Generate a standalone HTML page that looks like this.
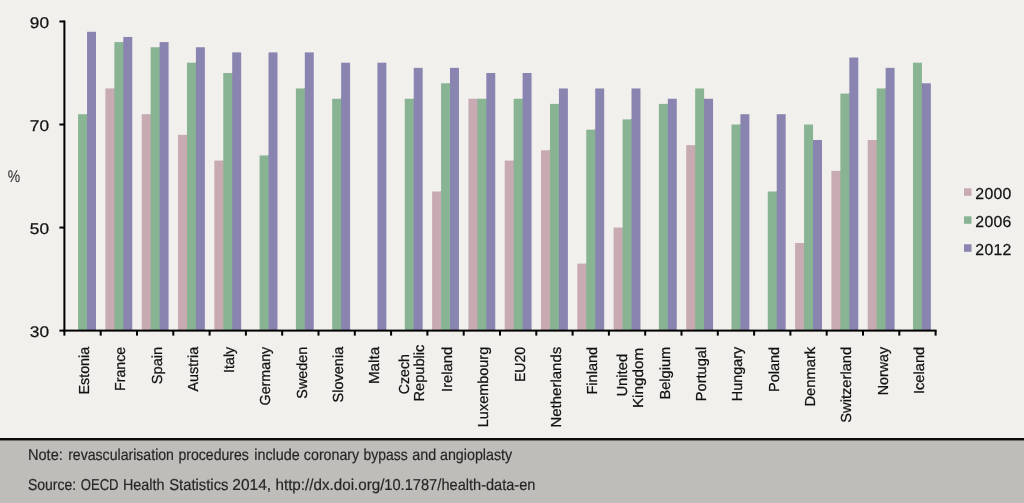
<!DOCTYPE html>
<html><head><meta charset="utf-8"><style>
html,body{margin:0;padding:0;}
body{text-rendering:geometricPrecision;width:1024px;height:503px;overflow:hidden;background:#f1f0ec;position:relative;font-family:"Liberation Sans",sans-serif;}
svg{position:absolute;left:0;top:0;will-change:transform;}
.t{font-family:"Liberation Sans",sans-serif;font-size:15px;fill:#111;stroke:#111;stroke-width:0.25px;}
.xl{font-size:14.5px;}
.lg{font-size:15.8px;letter-spacing:0.3px;}
.yl{font-size:15.5px;}
.pc{fill:#333;stroke:#333;stroke-width:0.1px;font-size:15.5px;}
.nt{font-family:"Liberation Sans",sans-serif;font-size:15.8px;fill:#262626;stroke:#262626;stroke-width:0.2px;}
</style></head><body>
<svg width="1024" height="503" viewBox="0 0 1024 503">
<rect x="78.08" y="114.22" width="8.95" height="216.38" fill="#88b494"/>
<rect x="86.03" y="114.22" width="2" height="216.38" fill="#88b494"/>
<rect x="87.03" y="31.78" width="8.95" height="298.82" fill="#8a84b0"/>
<rect x="105.42" y="88.46" width="8.95" height="242.14" fill="#c8abb2"/>
<rect x="113.38" y="88.46" width="2" height="242.14" fill="#c8abb2"/>
<rect x="114.38" y="42.09" width="8.95" height="288.51" fill="#88b494"/>
<rect x="122.33" y="42.09" width="2" height="288.51" fill="#88b494"/>
<rect x="123.32" y="36.94" width="8.95" height="293.66" fill="#8a84b0"/>
<rect x="141.72" y="114.22" width="8.95" height="216.38" fill="#c8abb2"/>
<rect x="149.67" y="114.22" width="2" height="216.38" fill="#c8abb2"/>
<rect x="150.67" y="47.24" width="8.95" height="283.36" fill="#88b494"/>
<rect x="158.62" y="47.24" width="2" height="283.36" fill="#88b494"/>
<rect x="159.62" y="42.09" width="8.95" height="288.51" fill="#8a84b0"/>
<rect x="178.02" y="134.82" width="8.95" height="195.78" fill="#c8abb2"/>
<rect x="185.97" y="134.82" width="2" height="195.78" fill="#c8abb2"/>
<rect x="186.97" y="62.70" width="8.95" height="267.90" fill="#88b494"/>
<rect x="194.92" y="62.70" width="2" height="267.90" fill="#88b494"/>
<rect x="195.92" y="47.24" width="8.95" height="283.36" fill="#8a84b0"/>
<rect x="214.32" y="160.58" width="8.95" height="170.02" fill="#c8abb2"/>
<rect x="222.27" y="160.58" width="2" height="170.02" fill="#c8abb2"/>
<rect x="223.27" y="73.00" width="8.95" height="257.60" fill="#88b494"/>
<rect x="231.22" y="73.00" width="2" height="257.60" fill="#88b494"/>
<rect x="232.22" y="52.39" width="8.95" height="278.21" fill="#8a84b0"/>
<rect x="259.57" y="155.43" width="8.95" height="175.17" fill="#88b494"/>
<rect x="267.52" y="155.43" width="2" height="175.17" fill="#88b494"/>
<rect x="268.52" y="52.39" width="8.95" height="278.21" fill="#8a84b0"/>
<rect x="295.88" y="88.46" width="8.95" height="242.14" fill="#88b494"/>
<rect x="303.82" y="88.46" width="2" height="242.14" fill="#88b494"/>
<rect x="304.82" y="52.39" width="8.95" height="278.21" fill="#8a84b0"/>
<rect x="332.17" y="98.76" width="8.95" height="231.84" fill="#88b494"/>
<rect x="340.12" y="98.76" width="2" height="231.84" fill="#88b494"/>
<rect x="341.12" y="62.70" width="8.95" height="267.90" fill="#8a84b0"/>
<rect x="377.42" y="62.70" width="8.95" height="267.90" fill="#8a84b0"/>
<rect x="404.77" y="98.76" width="8.95" height="231.84" fill="#88b494"/>
<rect x="412.72" y="98.76" width="2" height="231.84" fill="#88b494"/>
<rect x="413.72" y="67.85" width="8.95" height="262.75" fill="#8a84b0"/>
<rect x="432.12" y="191.50" width="8.95" height="139.10" fill="#c8abb2"/>
<rect x="440.07" y="191.50" width="2" height="139.10" fill="#c8abb2"/>
<rect x="441.07" y="83.30" width="8.95" height="247.30" fill="#88b494"/>
<rect x="449.02" y="83.30" width="2" height="247.30" fill="#88b494"/>
<rect x="450.02" y="67.85" width="8.95" height="262.75" fill="#8a84b0"/>
<rect x="468.43" y="98.76" width="8.95" height="231.84" fill="#c8abb2"/>
<rect x="476.38" y="98.76" width="2" height="231.84" fill="#c8abb2"/>
<rect x="477.38" y="98.76" width="8.95" height="231.84" fill="#88b494"/>
<rect x="485.32" y="98.76" width="2" height="231.84" fill="#88b494"/>
<rect x="486.32" y="73.00" width="8.95" height="257.60" fill="#8a84b0"/>
<rect x="504.72" y="160.58" width="8.95" height="170.02" fill="#c8abb2"/>
<rect x="512.67" y="160.58" width="2" height="170.02" fill="#c8abb2"/>
<rect x="513.67" y="98.76" width="8.95" height="231.84" fill="#88b494"/>
<rect x="521.62" y="98.76" width="2" height="231.84" fill="#88b494"/>
<rect x="522.62" y="73.00" width="8.95" height="257.60" fill="#8a84b0"/>
<rect x="541.02" y="150.28" width="8.95" height="180.32" fill="#c8abb2"/>
<rect x="548.98" y="150.28" width="2" height="180.32" fill="#c8abb2"/>
<rect x="549.98" y="103.91" width="8.95" height="226.69" fill="#88b494"/>
<rect x="557.93" y="103.91" width="2" height="226.69" fill="#88b494"/>
<rect x="558.92" y="88.46" width="8.95" height="242.14" fill="#8a84b0"/>
<rect x="577.32" y="263.62" width="8.95" height="66.98" fill="#c8abb2"/>
<rect x="585.27" y="263.62" width="2" height="66.98" fill="#c8abb2"/>
<rect x="586.27" y="129.67" width="8.95" height="200.93" fill="#88b494"/>
<rect x="594.23" y="129.67" width="2" height="200.93" fill="#88b494"/>
<rect x="595.22" y="88.46" width="8.95" height="242.14" fill="#8a84b0"/>
<rect x="613.62" y="227.56" width="8.95" height="103.04" fill="#c8abb2"/>
<rect x="621.58" y="227.56" width="2" height="103.04" fill="#c8abb2"/>
<rect x="622.58" y="119.37" width="8.95" height="211.23" fill="#88b494"/>
<rect x="630.53" y="119.37" width="2" height="211.23" fill="#88b494"/>
<rect x="631.52" y="88.46" width="8.95" height="242.14" fill="#8a84b0"/>
<rect x="658.88" y="103.91" width="8.95" height="226.69" fill="#88b494"/>
<rect x="666.83" y="103.91" width="2" height="226.69" fill="#88b494"/>
<rect x="667.82" y="98.76" width="8.95" height="231.84" fill="#8a84b0"/>
<rect x="686.23" y="145.13" width="8.95" height="185.47" fill="#c8abb2"/>
<rect x="694.18" y="145.13" width="2" height="185.47" fill="#c8abb2"/>
<rect x="695.18" y="88.46" width="8.95" height="242.14" fill="#88b494"/>
<rect x="703.13" y="98.76" width="2" height="231.84" fill="#88b494"/>
<rect x="704.12" y="98.76" width="8.95" height="231.84" fill="#8a84b0"/>
<rect x="731.48" y="124.52" width="8.95" height="206.08" fill="#88b494"/>
<rect x="739.43" y="124.52" width="2" height="206.08" fill="#88b494"/>
<rect x="740.42" y="114.22" width="8.95" height="216.38" fill="#8a84b0"/>
<rect x="767.77" y="191.50" width="8.95" height="139.10" fill="#88b494"/>
<rect x="775.73" y="191.50" width="2" height="139.10" fill="#88b494"/>
<rect x="776.72" y="114.22" width="8.95" height="216.38" fill="#8a84b0"/>
<rect x="795.12" y="243.02" width="8.95" height="87.58" fill="#c8abb2"/>
<rect x="803.08" y="243.02" width="2" height="87.58" fill="#c8abb2"/>
<rect x="804.08" y="124.52" width="8.95" height="206.08" fill="#88b494"/>
<rect x="812.03" y="139.98" width="2" height="190.62" fill="#88b494"/>
<rect x="813.02" y="139.98" width="8.95" height="190.62" fill="#8a84b0"/>
<rect x="831.42" y="170.89" width="8.95" height="159.71" fill="#c8abb2"/>
<rect x="839.38" y="170.89" width="2" height="159.71" fill="#c8abb2"/>
<rect x="840.38" y="93.61" width="8.95" height="236.99" fill="#88b494"/>
<rect x="848.33" y="93.61" width="2" height="236.99" fill="#88b494"/>
<rect x="849.32" y="57.54" width="8.95" height="273.06" fill="#8a84b0"/>
<rect x="867.72" y="139.98" width="8.95" height="190.62" fill="#c8abb2"/>
<rect x="875.67" y="139.98" width="2" height="190.62" fill="#c8abb2"/>
<rect x="876.67" y="88.46" width="8.95" height="242.14" fill="#88b494"/>
<rect x="884.62" y="88.46" width="2" height="242.14" fill="#88b494"/>
<rect x="885.62" y="67.85" width="8.95" height="262.75" fill="#8a84b0"/>
<rect x="912.98" y="62.70" width="8.95" height="267.90" fill="#88b494"/>
<rect x="920.93" y="83.30" width="2" height="247.30" fill="#88b494"/>
<rect x="921.92" y="83.30" width="8.95" height="247.30" fill="#8a84b0"/>
<rect x="63.40" y="20.48" width="2" height="311.12" fill="#000"/>
<rect x="63.40" y="329.60" width="873.20" height="2" fill="#000"/>
<rect x="59.40" y="329.60" width="5" height="2" fill="#000"/>
<rect x="59.40" y="226.56" width="5" height="2" fill="#000"/>
<rect x="59.40" y="123.52" width="5" height="2" fill="#000"/>
<rect x="59.40" y="20.48" width="5" height="2" fill="#000"/>
<rect x="63.40" y="330.60" width="2" height="5" fill="#000"/>
<rect x="99.70" y="330.60" width="2" height="5" fill="#000"/>
<rect x="136.00" y="330.60" width="2" height="5" fill="#000"/>
<rect x="172.30" y="330.60" width="2" height="5" fill="#000"/>
<rect x="208.60" y="330.60" width="2" height="5" fill="#000"/>
<rect x="244.90" y="330.60" width="2" height="5" fill="#000"/>
<rect x="281.20" y="330.60" width="2" height="5" fill="#000"/>
<rect x="317.50" y="330.60" width="2" height="5" fill="#000"/>
<rect x="353.80" y="330.60" width="2" height="5" fill="#000"/>
<rect x="390.10" y="330.60" width="2" height="5" fill="#000"/>
<rect x="426.40" y="330.60" width="2" height="5" fill="#000"/>
<rect x="462.70" y="330.60" width="2" height="5" fill="#000"/>
<rect x="499.00" y="330.60" width="2" height="5" fill="#000"/>
<rect x="535.30" y="330.60" width="2" height="5" fill="#000"/>
<rect x="571.60" y="330.60" width="2" height="5" fill="#000"/>
<rect x="607.90" y="330.60" width="2" height="5" fill="#000"/>
<rect x="644.20" y="330.60" width="2" height="5" fill="#000"/>
<rect x="680.50" y="330.60" width="2" height="5" fill="#000"/>
<rect x="716.80" y="330.60" width="2" height="5" fill="#000"/>
<rect x="753.10" y="330.60" width="2" height="5" fill="#000"/>
<rect x="789.40" y="330.60" width="2" height="5" fill="#000"/>
<rect x="825.70" y="330.60" width="2" height="5" fill="#000"/>
<rect x="862.00" y="330.60" width="2" height="5" fill="#000"/>
<rect x="898.30" y="330.60" width="2" height="5" fill="#000"/>
<rect x="934.60" y="330.60" width="2" height="5" fill="#000"/>
<text transform="translate(49.1,337.20) scale(1.115,1)" text-anchor="end" class="t yl">30</text>
<text transform="translate(49.1,234.16) scale(1.115,1)" text-anchor="end" class="t yl">50</text>
<text transform="translate(49.1,131.12) scale(1.115,1)" text-anchor="end" class="t yl">70</text>
<text transform="translate(49.1,28.08) scale(1.115,1)" text-anchor="end" class="t yl">90</text>
<text transform="translate(7.7,182.0) scale(0.9,1.1)" class="t pc">%</text>
<text transform="translate(88.95,346.8) rotate(-90)" text-anchor="end" class="t xl" textLength="47.76" lengthAdjust="spacingAndGlyphs">Estonia</text>
<text transform="translate(125.25,346.8) rotate(-90)" text-anchor="end" class="t xl" textLength="44.10" lengthAdjust="spacingAndGlyphs">France</text>
<text transform="translate(161.55,346.8) rotate(-90)" text-anchor="end" class="t xl" textLength="37.41" lengthAdjust="spacingAndGlyphs">Spain</text>
<text transform="translate(197.85,346.8) rotate(-90)" text-anchor="end" class="t xl" textLength="44.74" lengthAdjust="spacingAndGlyphs">Austria</text>
<text transform="translate(234.15,346.8) rotate(-90)" text-anchor="end" class="t xl" textLength="26.18" lengthAdjust="spacingAndGlyphs">Italy</text>
<text transform="translate(270.45,346.8) rotate(-90)" text-anchor="end" class="t xl" textLength="58.63" lengthAdjust="spacingAndGlyphs">Germany</text>
<text transform="translate(306.75,346.8) rotate(-90)" text-anchor="end" class="t xl" textLength="51.89" lengthAdjust="spacingAndGlyphs">Sweden</text>
<text transform="translate(343.05,346.8) rotate(-90)" text-anchor="end" class="t xl" textLength="55.62" lengthAdjust="spacingAndGlyphs">Slovenia</text>
<text transform="translate(379.35,346.8) rotate(-90)" text-anchor="end" class="t xl" textLength="37.32" lengthAdjust="spacingAndGlyphs">Malta</text>
<text transform="translate(409.05,374.20) rotate(-90)" text-anchor="middle" class="t xl" textLength="40.07" lengthAdjust="spacingAndGlyphs">Czech</text>
<text transform="translate(424.45,373.10) rotate(-90)" text-anchor="middle" class="t xl" textLength="56.88" lengthAdjust="spacingAndGlyphs">Republic</text>
<text transform="translate(451.95,346.8) rotate(-90)" text-anchor="end" class="t xl" textLength="45.18" lengthAdjust="spacingAndGlyphs">Ireland</text>
<text transform="translate(488.25,346.8) rotate(-90)" text-anchor="end" class="t xl" textLength="80.40" lengthAdjust="spacingAndGlyphs">Luxembourg</text>
<text transform="translate(524.55,346.8) rotate(-90)" text-anchor="end" class="t xl" textLength="35.23" lengthAdjust="spacingAndGlyphs">EU20</text>
<text transform="translate(560.85,346.8) rotate(-90)" text-anchor="end" class="t xl" textLength="80.74" lengthAdjust="spacingAndGlyphs">Netherlands</text>
<text transform="translate(597.15,346.8) rotate(-90)" text-anchor="end" class="t xl" textLength="47.77" lengthAdjust="spacingAndGlyphs">Finland</text>
<text transform="translate(626.85,375.25) rotate(-90)" text-anchor="middle" class="t xl" textLength="42.65" lengthAdjust="spacingAndGlyphs">United</text>
<text transform="translate(643.05,377.95) rotate(-90)" text-anchor="middle" class="t xl" textLength="60.25" lengthAdjust="spacingAndGlyphs">Kingdom</text>
<text transform="translate(669.75,346.8) rotate(-90)" text-anchor="end" class="t xl" textLength="52.80" lengthAdjust="spacingAndGlyphs">Belgium</text>
<text transform="translate(706.05,346.8) rotate(-90)" text-anchor="end" class="t xl" textLength="54.33" lengthAdjust="spacingAndGlyphs">Portugal</text>
<text transform="translate(742.35,346.8) rotate(-90)" text-anchor="end" class="t xl" textLength="54.40" lengthAdjust="spacingAndGlyphs">Hungary</text>
<text transform="translate(778.65,346.8) rotate(-90)" text-anchor="end" class="t xl" textLength="45.26" lengthAdjust="spacingAndGlyphs">Poland</text>
<text transform="translate(814.95,346.8) rotate(-90)" text-anchor="end" class="t xl" textLength="59.74" lengthAdjust="spacingAndGlyphs">Denmark</text>
<text transform="translate(851.25,346.8) rotate(-90)" text-anchor="end" class="t xl" textLength="75.97" lengthAdjust="spacingAndGlyphs">Switzerland</text>
<text transform="translate(887.55,346.8) rotate(-90)" text-anchor="end" class="t xl" textLength="48.54" lengthAdjust="spacingAndGlyphs">Norway</text>
<text transform="translate(923.85,346.8) rotate(-90)" text-anchor="end" class="t xl" textLength="47.29" lengthAdjust="spacingAndGlyphs">Iceland</text>
<rect x="964" y="188.30" width="7.5" height="7.5" fill="#c8abb2"/>
<text x="975.3" y="198.80" class="t lg">2000</text>
<rect x="964" y="216.30" width="7.5" height="7.5" fill="#88b494"/>
<text x="975.3" y="226.80" class="t lg">2006</text>
<rect x="964" y="244.30" width="7.5" height="7.5" fill="#8a84b0"/>
<text x="975.3" y="254.80" class="t lg">2012</text>
<rect x="0" y="438" width="1024" height="65" fill="#bfbdb9"/>
<rect x="0" y="438" width="1024" height="2" fill="#0a0a0a"/>
<rect x="0" y="440" width="1024" height="1" fill="#6e6d6a"/>
<text x="28.03" y="460" class="nt" textLength="34.8" lengthAdjust="spacingAndGlyphs">Note:</text>
<text x="68.13" y="460" class="nt" textLength="105.83" lengthAdjust="spacingAndGlyphs">revascularisation</text>
<text x="178.53" y="460" class="nt" textLength="70.35" lengthAdjust="spacingAndGlyphs">procedures</text>
<text x="254.24" y="460" class="nt" textLength="45.47" lengthAdjust="spacingAndGlyphs">include</text>
<text x="303.86" y="460" class="nt" textLength="55.34" lengthAdjust="spacingAndGlyphs">coronary</text>
<text x="363.54" y="460" class="nt" textLength="44.07" lengthAdjust="spacingAndGlyphs">bypass</text>
<text x="412.25" y="460" class="nt" textLength="23.97" lengthAdjust="spacingAndGlyphs">and</text>
<text x="439.96" y="460" class="nt" textLength="72.21" lengthAdjust="spacingAndGlyphs">angioplasty</text>
<text x="27.88" y="490" class="nt" textLength="48.21" lengthAdjust="spacingAndGlyphs">Source:</text>
<text x="80.76" y="490" class="nt" textLength="37.81" lengthAdjust="spacingAndGlyphs">OECD</text>
<text x="122.94" y="490" class="nt" textLength="41.56" lengthAdjust="spacingAndGlyphs">Health</text>
<text x="169.24" y="490" class="nt" textLength="59.22" lengthAdjust="spacingAndGlyphs">Statistics</text>
<text x="232.33" y="490" class="nt" textLength="38.75" lengthAdjust="spacingAndGlyphs">2014,</text>
<text x="275.47" y="490" class="nt" textLength="108.94" lengthAdjust="spacingAndGlyphs">http://dx.doi.org/</text>
<text x="384.34" y="490" class="nt" textLength="56.97" lengthAdjust="spacingAndGlyphs">10.1787/</text>
<text x="441.51" y="490" class="nt" textLength="93.9" lengthAdjust="spacingAndGlyphs">health-data-en</text>
</svg>
</body></html>
